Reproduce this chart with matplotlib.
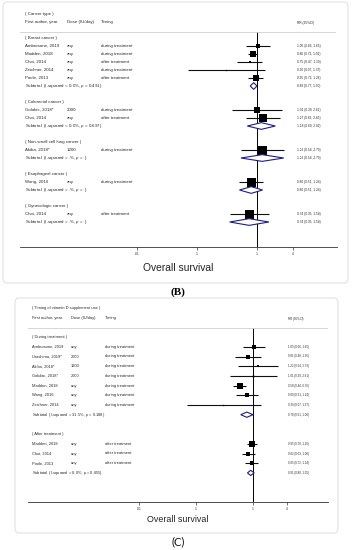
import math
import matplotlib
matplotlib.use("Agg")
import matplotlib.pyplot as plt
from matplotlib.patches import Polygon, FancyBboxPatch

plt.rcParams['font.family'] = ['Liberation Sans', 'DejaVu Sans']
plt.rcParams['mathtext.fontset'] = 'custom'
plt.rcParams['mathtext.it'] = 'Liberation Sans:italic'
plt.rcParams['mathtext.rm'] = 'Liberation Sans'

# panel B: by cancer type
b_groups = ["Breast cancer", "Colorectal cancer", "Non-small cell lung cancer",
            "Esophageal cancer", "Gynecologic cancer"]
b_group_of = [0, 0, 0, 0, 0, 1, 1, 2, 3, 4]
b_names = ["Ambrosone, 2019", "Madden, 2018", "Choi, 2014", "Zeichner, 2014", "Poole, 2013",
           "Golubic, 2018*", "Choi, 2014", "Akiba, 2018*", "Wang, 2016", "Choi, 2014"]
b_dose = ["any", "any", "any", "any", "any", "2000", "any", "1200", "any", "any"]
b_timing = ["during treatment", "during treatment", "after treatment", "during treatment",
            "after treatment", "during treatment", "after treatment", "during treatment",
            "during treatment", "after treatment"]
b_rr = [1.05, 0.86, 0.75, 0.30, 0.95, 1.01, 1.27, 1.22, 0.80, 0.74]
b_lo = [0.66, 0.72, 0.47, 0.07, 0.72, 0.39, 0.66, 0.54, 0.51, 0.35]
b_hi = [1.65, 1.01, 1.19, 1.37, 1.24, 2.61, 2.45, 2.79, 1.24, 1.58]
b_weight = [13, 60, 11, 2, 31, 35, 79, 100, 100, 100]
b_sub_rr = [0.88, 1.18, 1.22, 0.80, 0.74]
b_sub_lo = [0.77, 0.69, 0.54, 0.51, 0.35]
b_sub_hi = [1.00, 2.02, 2.79, 1.24, 1.58]
b_sub_i2 = ["0.0%", "0.0%", ".%", ".%", ".%"]
b_sub_p = ["0.491", "0.697", ".", ".", "."]

# panel C: by timing of supplement use
c_groups = ["During treatment", "After treatment"]
c_group_of = [0, 0, 0, 0, 0, 0, 0, 1, 1, 1]
c_names = ["Ambrosone, 2019", "Urashima, 2019*", "Akiba, 2018*", "Golubic, 2018*",
           "Madden, 2018", "Wang, 2016", "Zeichner, 2014",
           "Madden, 2018", "Choi, 2014", "Poole, 2013"]
c_dose = ["any", "2000", "1200", "2000", "any", "any", "any", "any", "any", "any"]
c_timing = ["during treatment"] * 7 + ["after treatment"] * 3
c_rr = [1.05, 0.81, 1.22, 1.01, 0.58, 0.80, 0.30, 0.95, 0.82, 0.95]
c_lo = [0.66, 0.48, 0.54, 0.39, 0.44, 0.51, 0.07, 0.78, 0.63, 0.72]
c_hi = [1.65, 1.36, 2.79, 2.61, 0.76, 1.24, 1.37, 1.16, 1.08, 1.24]
c_weight = [23, 17, 7, 4, 31, 17, 2, 31, 17, 20]
c_sub_rr = [0.78, 0.91]
c_sub_lo = [0.61, 0.80]
c_sub_hi = [1.00, 1.05]
c_sub_i2 = ["31.5%", "0.0%"]
c_sub_p = ["0.188", "0.655"]

W, H = 355, 550
fig = plt.figure(figsize=(W / 100, H / 100), dpi=100)

TXT = '#2a2a2a'
NAVY = '#1c1c8c'


def forest(rect, one_px, px_per_dec, rows, title, groups, group_of, names, dose, timing,
           rr, lo, hi, weight, sub_rr, sub_lo, sub_hi, sub_i2, sub_p,
           cols, sep_px, fs, rr_fs, dia_h, xlabel_fs, xlabel_y):
    left, top, right, bottom = rect
    ax = fig.add_axes([left / W, 1 - bottom / H, (right - left) / W, (bottom - top) / H])
    ax.set_xscale('log')
    ax.set_xlim(10 ** (-(one_px - left) / px_per_dec), 10 ** ((right - one_px) / px_per_dec))
    y0, dy = rows
    ytop = (top - y0) / dy
    ybot = (bottom - y0) / dy
    ax.set_ylim(ybot, ytop)
    ax.patch.set_visible(False)
    for s in ['top', 'right', 'left']:
        ax.spines[s].set_visible(False)
    ax.spines['bottom'].set_linewidth(0.6)
    ax.spines['bottom'].set_color('#333333')
    ax.set_yticks([])
    ax.set_xticks([0.01, 0.1, 1, 4])
    ax.set_xticklabels(['.01', '.1', '1', '4'])
    ax.minorticks_off()
    ax.tick_params(axis='x', length=2, width=0.5, pad=1.5, labelsize=2.4, colors='#333333')

    fx = lambda px: (px - left) / (right - left)
    x_name, x_dose, x_time, x_rr = [fx(c) for c in cols]
    tr = ax.get_yaxis_transform()
    kw = dict(transform=tr, va='center', ha='left', fontsize=fs, color=TXT)

    ax.text(x_name, 0, title, **kw)
    ax.text(x_name, 1, "First author, year", **kw)
    ax.text(x_dose, 1, "Dose (IU/day)", **kw)
    ax.text(x_time, 1, "Timing", **kw)
    ax.text(x_rr, 1.1, "RR (95%CI)", transform=tr, va='center', ha='left',
            fontsize=rr_fs, color=TXT)

    sep = (sep_px - y0) / dy
    ax.plot([0, 0.995], [sep, sep], transform=tr, color='#d0d0d0', lw=0.6)
    ax.axvline(1, ymin=0, ymax=(ybot - sep) / (ybot - ytop), color='k', lw=0.7, zorder=1)

    row = 3
    for g, gname in enumerate(groups):
        ax.text(x_name, row, "( " + gname + " )", **kw)
        row += 1
        for i in range(len(names)):
            if group_of[i] != g:
                continue
            ax.text(x_name, row, names[i], **kw)
            ax.text(x_dose, row, dose[i], **kw)
            ax.text(x_time, row, timing[i], **kw)
            ax.text(x_rr, row, f"{rr[i]:.2f} ({lo[i]:.2f}, {hi[i]:.2f})", transform=tr,
                    va='center', ha='left', fontsize=rr_fs, color=TXT)
            ax.plot([lo[i], hi[i]], [row, row], color='#111111', lw=0.8, zorder=2,
                    solid_capstyle='butt')
            side_px = max(0.9 * math.sqrt(weight[i]), 1.3)
            ax.plot(rr[i], row, marker='s', ms=side_px * 0.72, color='k', mew=0, zorder=3)
            row += 1
        ax.text(x_name, row, f"Subtotal  (I-squared = {sub_i2[g]}, $p$ = {sub_p[g]})", **kw)
        ax.text(x_rr, row, f"{sub_rr[g]:.2f} ({sub_lo[g]:.2f}, {sub_hi[g]:.2f})", transform=tr,
                va='center', ha='left', fontsize=rr_fs, color=TXT)
        dia = Polygon([(sub_lo[g], row), (sub_rr[g], row - dia_h), (sub_hi[g], row),
                       (sub_rr[g], row + dia_h)], closed=True, facecolor='white',
                      edgecolor=NAVY, lw=0.8, zorder=3)
        ax.add_patch(dia)
        row += 2

    ax.text(0.5, -(xlabel_y - bottom) / (bottom - top), "Overall survival",
            transform=ax.transAxes, ha='center', va='center', fontsize=xlabel_fs,
            color='#222222')
    return ax


# panel frames
fig.patches.append(FancyBboxPatch((3 / W, 1 - 283 / H), 345 / W, 281 / H,
                                  boxstyle="round,pad=0,rounding_size=0.01",
                                  transform=fig.transFigure, facecolor='none',
                                  edgecolor='#e2e2e2', lw=0.8))
fig.patches.append(FancyBboxPatch((15 / W, 1 - 533 / H), 323 / W, 235 / H,
                                  boxstyle="round,pad=0,rounding_size=0.01",
                                  transform=fig.transFigure, facecolor='none',
                                  edgecolor='#e2e2e2', lw=0.8))

forest((20, 10, 337, 247), 257, 60, (14, 8), "( Cancer type )",
       b_groups, b_group_of, b_names, b_dose, b_timing, b_rr, b_lo, b_hi, b_weight,
       b_sub_rr, b_sub_lo, b_sub_hi, b_sub_i2, b_sub_p,
       (25, 67, 101, 297), 32, 3.2, 2.3, 0.42, 7.4, 268)

forest((28, 300, 328, 502), 253, 57, (308, 9.7), "( Timing of vitamin D supplement use )",
       c_groups, c_group_of, c_names, c_dose, c_timing, c_rr, c_lo, c_hi, c_weight,
       c_sub_rr, c_sub_lo, c_sub_hi, c_sub_i2, c_sub_p,
       (32, 71, 105, 288), 328, 2.9, 2.1, 0.27, 6.4, 519)

fig.text(178 / W, 1 - 292 / H, "(B)", ha='center', va='center', fontsize=8,
         fontweight='bold', family=['Liberation Serif', 'DejaVu Serif'])
fig.text(178 / W, 1 - 542 / H, "(C)", ha='center', va='center', fontsize=8,
         family=['Lato', 'DejaVu Sans'], color='#111111')

fig.savefig("out.png", dpi=100)
